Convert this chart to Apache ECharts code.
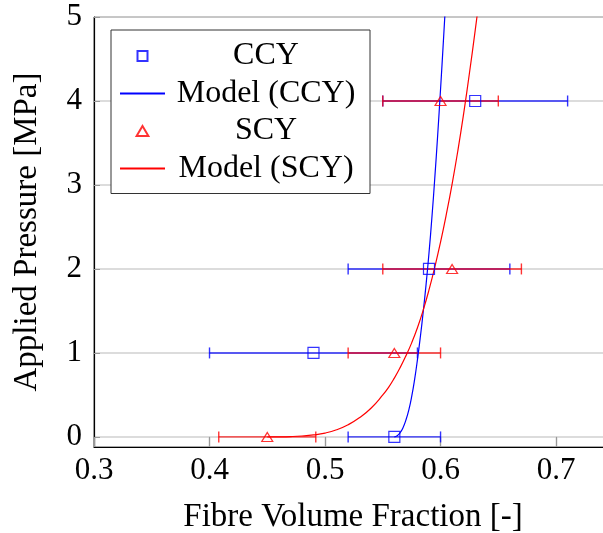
<!DOCTYPE html>
<html>
<head>
<meta charset="utf-8">
<script src="https://cdn.jsdelivr.net/npm/echarts@6/dist/echarts.min.js"></script>
<style>
html,body{margin:0;padding:0;background:#fff;}
#main{width:603px;height:533px;}
</style>
</head>
<body>
<div id="main"></div>
<script>
// measured points (x = fibre volume fraction, y = pressure)
var ccyX = [0.56, 0.49, 0.59, 0.63];
var ccyY = [0, 1, 2, 4];
var ccyErr = [0.04, 0.09, 0.07, 0.08];
var scyX = [0.45, 0.56, 0.61, 0.60];
var scyY = [0, 1, 2, 4];
var scyErr = [0.042, 0.04, 0.06, 0.05];

// model curves
var ccyModelX = [0.56, 0.5625, 0.565, 0.5675, 0.57, 0.5725, 0.575, 0.5775, 0.58, 0.5825, 0.585, 0.5875, 0.59, 0.5925, 0.595, 0.5975, 0.60, 0.6025, 0.605];
var ccyModelY = [0, 0.015, 0.05, 0.11, 0.20, 0.32, 0.48, 0.68, 0.92, 1.19, 1.49, 1.82, 2.19, 2.61, 3.08, 3.59, 4.14, 4.72, 5.32];
var scyModelX = [0.45, 0.46, 0.47, 0.48, 0.49, 0.50, 0.51, 0.52, 0.53, 0.54, 0.55, 0.555, 0.56, 0.565, 0.57, 0.575, 0.58, 0.585, 0.59, 0.595, 0.60, 0.605, 0.61, 0.615, 0.62, 0.625, 0.63, 0.635];
var scyModelY = [0, 0.001, 0.004, 0.011, 0.024, 0.046, 0.085, 0.145, 0.23, 0.345, 0.50, 0.59, 0.70, 0.825, 0.965, 1.12, 1.30, 1.51, 1.75, 2.02, 2.32, 2.65, 3.01, 3.41, 3.85, 4.33, 4.84, 5.37];

var xTicks = [0.3, 0.4, 0.5, 0.6, 0.7];
var yTicks = [0, 1, 2, 3, 4, 5];

var FONT = 'Liberation Serif';
var BLUE = '#0000ff';
var RED = '#ff0000';

function pairs(xs, ys) {
	var out = [];
	for (var i = 0; i < xs.length; i++) {
		out.push([xs[i], ys[i]]);
	}
	return out;
}

function errData(xs, ys, es) {
	var out = [];
	for (var i = 0; i < xs.length; i++) {
		out.push([xs[i], ys[i], es[i]]);
	}
	return out;
}

// horizontal error bar with end caps
function errRender(color) {
	return function(params, api) {
		var x = api.value(0), y = api.value(1), e = api.value(2);
		var lo = api.coord([x - e, y]);
		var hi = api.coord([x + e, y]);
		var h = 5.5;
		var st = {stroke: color, lineWidth: 1.4, opacity: 0.8};
		return {
			type: 'group',
			children: [
				{type: 'line', shape: {x1: lo[0], y1: lo[1], x2: hi[0], y2: hi[1]}, style: st},
				{type: 'line', shape: {x1: lo[0], y1: lo[1] - h, x2: lo[0], y2: lo[1] + h}, style: st},
				{type: 'line', shape: {x1: hi[0], y1: hi[1] - h, x2: hi[0], y2: hi[1] + h}, style: st}
			]
		};
	};
}

var myChart = echarts.init(document.getElementById('main'), null, {renderer: 'canvas'});

var option = {
	animation: false,
	backgroundColor: '#fff',
	grid: {
		left: 94, top: 17, right: -1, bottom: 86,
		outerBoundsMode: 'none',
		containLabel: false,
		show: true, borderColor: '#555', borderWidth: 1, backgroundColor: 'transparent'
	},
	legend: {
		data: [
			{name: 'CCY', icon: 'path://M0,0L10,0L10,10L0,10Z'},
			{name: 'Model (CCY)', itemStyle: {opacity: 0}},
			{name: 'SCY', icon: 'path://M5,0L10,8.5L0,8.5Z'},
			{name: 'Model (SCY)', itemStyle: {opacity: 0}}
		],
		orient: 'vertical',
		left: 111, top: 30,
		padding: [10, 8, 9, 8],
		itemWidth: 45, itemHeight: 10, itemGap: 5.5,
		symbolKeepAspect: true,
		backgroundColor: '#fff',
		borderColor: '#333', borderWidth: 1,
		selectedMode: false,
		formatter: '{t|{name}}',
		textStyle: {
			fontFamily: FONT, fontSize: 32, color: '#000', lineHeight: 30,
			rich: {t: {fontFamily: FONT, fontSize: 32, color: '#000', width: 192, align: 'center', lineHeight: 30}}
		}
	},
	xAxis: [{
		type: 'value',
		min: 0.3, max: 0.7415,
		position: 'bottom',
		name: 'Fibre Volume Fraction [-]',
		nameLocation: 'middle',
		nameGap: 54,
		nameTextStyle: {fontFamily: FONT, fontSize: 33, color: '#000', padding: [0, 0, 0, 8]},
		axisLine: {show: true, onZero: false, lineStyle: {color: '#000', width: 1.2}},
		axisTick: {show: true, inside: true, length: 9, customValues: xTicks, lineStyle: {color: '#999', width: 1.2}},
		axisLabel: {show: true, customValues: xTicks, fontFamily: FONT, fontSize: 31, color: '#000', margin: 8,
			formatter: function(v) { return v.toFixed(1); }},
		splitLine: {show: false}
	}, {
		type: 'value',
		min: 0.3, max: 0.7415,
		position: 'top',
		axisLine: {show: false},
		axisTick: {show: true, inside: true, length: 9, customValues: xTicks, lineStyle: {color: '#999', width: 1.2}},
		axisLabel: {show: false},
		splitLine: {show: false}
	}],
	yAxis: {
		type: 'value',
		min: -0.12, max: 5,
		name: 'Applied Pressure [MPa]',
		nameLocation: 'middle',
		nameGap: 50,
		nameTextStyle: {fontFamily: FONT, fontSize: 33, color: '#000'},
		axisLine: {show: true, onZero: false, lineStyle: {color: '#000', width: 1.2}},
		axisTick: {show: true, inside: true, length: 6, customValues: yTicks, lineStyle: {color: '#999'}},
		axisLabel: {show: true, customValues: yTicks, fontFamily: FONT, fontSize: 31, color: '#000', margin: 12},
		splitLine: {show: true, lineStyle: {color: '#d0d0d0', width: 1.5}}
	},
	series: [
		{
			name: 'CCY err', type: 'custom', xAxisIndex: 0,
			renderItem: errRender(BLUE),
			encode: {x: 0, y: 1},
			data: errData(ccyX, ccyY, ccyErr),
			z: 2
		},
		{
			name: 'CCY', type: 'scatter', xAxisIndex: 0,
			symbol: 'rect', symbolSize: 11,
			itemStyle: {color: 'rgba(0,0,0,0)', borderColor: BLUE, borderWidth: 1.2},
			data: pairs(ccyX, ccyY),
			z: 2
		},
		{
			name: 'Model (CCY)', type: 'line', xAxisIndex: 0,
			symbol: 'none', smooth: true,
			lineStyle: {color: BLUE, width: 1.2},
			itemStyle: {color: BLUE},
			data: pairs(ccyModelX, ccyModelY),
			z: 2
		},
		{
			name: 'SCY err', type: 'custom', xAxisIndex: 0,
			renderItem: errRender(RED),
			encode: {x: 0, y: 1},
			data: errData(scyX, scyY, scyErr),
			z: 2
		},
		{
			name: 'SCY', type: 'scatter', xAxisIndex: 0,
			symbol: 'triangle', symbolSize: [11, 9],
			itemStyle: {color: 'rgba(0,0,0,0)', borderColor: RED, borderWidth: 1.2},
			data: pairs(scyX, scyY),
			z: 2
		},
		{
			name: 'Model (SCY)', type: 'line', xAxisIndex: 0,
			symbol: 'none', smooth: true,
			lineStyle: {color: RED, width: 1.2},
			itemStyle: {color: RED},
			data: pairs(scyModelX, scyModelY),
			z: 2
		}
	]
};

myChart.setOption(option);
</script>
</body>
</html>
